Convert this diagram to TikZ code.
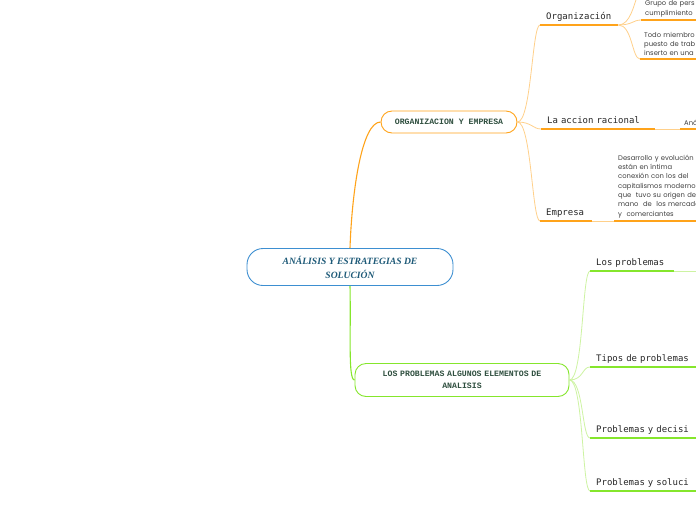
\documentclass[tikz,border=0pt]{standalone}
\usepackage{fontspec}
\setmainfont{Liberation Serif}
\newfontfamily\topicfont{DejaVu Sans Mono}
\newfontfamily\boxfont{Liberation Mono}
\newfontfamily\notefont{Poppins}

\definecolor{rootblue}{HTML}{3D8FD1}
\definecolor{roottext}{HTML}{1E5A78}
\definecolor{boxtext}{HTML}{2F4F3F}
\definecolor{orgorange}{HTML}{FFA31A}
\definecolor{orglight}{HTML}{FFD08A}
\definecolor{problime}{HTML}{85E62C}
\definecolor{problight}{HTML}{CDF3A2}

\begin{document}
\begin{tikzpicture}[x=1pt, y=-1pt,
    rootbox/.style={draw=rootblue, line width=0.9pt, fill=white, rounded corners=16pt,
        minimum width=206pt, minimum height=37pt, align=center, text=roottext,
        font=\bfseries\itshape\fontsize{9.6}{14}\selectfont},
    mainbox/.style={draw=#1, line width=0.9pt, fill=white, rounded corners=11pt,
        align=center, text=boxtext, font=\boxfont\bfseries\fontsize{8.2}{12}\selectfont},
    topic/.style={anchor=south west, inner xsep=6pt, inner ysep=3pt, text width=#1,
        text height=7pt, text depth=2pt, align=left,
        font=\topicfont\fontsize{9}{11}\selectfont, text=black!85},
    note/.style={anchor=south west, inner xsep=4pt, inner ysep=3pt, text width=#1,
        align=left, font=\notefont\fontsize{6.8}{9.3}\selectfont, text=black!75},
    uline/.style={line width=1.4pt, draw=#1},
    conn/.style={line width=0.8pt, draw=#1},
    trunk/.style={line width=1.1pt, draw=#1},
]

        \useasboundingbox (0,0) rectangle (696,520);
        \clip (0,0) rectangle (696,520);

        % 1. 中心ノードと二つの枝
        \node[rootbox] (root) at (350,267) {ANÁLISIS Y ESTRATEGIAS DE\\SOLUCIÓN};
        \node[mainbox=orgorange, minimum width=136pt, minimum height=22pt] (orgemp)
            at (449,122) {ORGANIZACION Y EMPRESA};
        \node[mainbox=problime, minimum width=214pt, minimum height=33pt, text width=200pt] (probs)
            at (462,380) {LOS PROBLEMAS ALGUNOS ELEMENTOS DE\\ANALISIS};

        \draw[trunk=orgorange] (root.north) .. controls (352,190) and (362,122) .. (orgemp.west);
        \draw[trunk=problime] (root.south) .. controls (351,335) and (348,380) .. (probs.west);

        % 2. ORGANIZACION Y EMPRESA の項目
        \node[topic=66pt] (orga) at (540,25) {Organización};
        \node[topic=102pt] (accion) at (541,129) {La accion racional};
        \node[topic=40pt] (empresa) at (540,221) {Empresa};

        \foreach \n in {orga, accion, empresa}
            \draw[conn=orglight] (orgemp.east) .. controls +(14,0) and +(-8,0) .. (\n.south west);
        \foreach \n in {orga, accion, empresa}
            \draw[uline=orgorange] (\n.south west) -- (\n.south east);

        % 3. 右端のメモ（はみ出して切れる）
        \node[note=110pt] (grupo) at (641,20) {Grupo de pers\\cumplimiento};
        \node[note=110pt] (todo) at (640,59) {Todo miembro\\puesto de trab\\inserto en una};
        \node[note=40pt] (ana) at (680,129) {Aná};
        \node[note=110pt] (desa) at (614,221)
            {Desarrollo y evolución\\están en íntima\\conexión con los del\\capitalismos moderno\\
             que~~tuvo su origen de\\mano~~de~~los mercade\\y~~comerciantes};
        \coordinate (arriba) at (638,-6);

        \draw[conn=orglight] (orga.south east) .. controls +(12,0) and +(-4,10) .. (arriba);
        \foreach \n in {grupo, todo}
            \draw[conn=orglight] (orga.south east) .. controls +(14,0) and +(-8,0) .. (\n.south west);
        \draw[conn=orglight] (accion.south east) -- (ana.south west);
        \draw[conn=orglight] (empresa.south east) -- (desa.south west);
        \foreach \n in {grupo, todo, ana, desa}
            \draw[uline=orgorange] (\n.south west) -- (\n.south east);

        % 4. LOS PROBLEMAS の項目
        \node[topic=72pt] (losp) at (590,271) {Los problemas};
        \node[topic=110pt] (tipos) at (590,367) {Tipos de problemas};
        \node[topic=110pt] (decis) at (590,438) {Problemas y decisi};
        \node[topic=110pt] (soluc) at (590,491) {Problemas y soluci};
        \coordinate (derecha) at (700,271);

        \foreach \n in {losp, tipos, decis, soluc}
            \draw[conn=problight] (probs.east) .. controls +(14,0) and +(-8,0) .. (\n.south west);
        \draw[conn=problight] (losp.south east) -- (derecha);
        \foreach \n in {losp, tipos, decis, soluc}
            \draw[uline=problime] (\n.south west) -- (\n.south east);
    \end{tikzpicture}
\end{document}
